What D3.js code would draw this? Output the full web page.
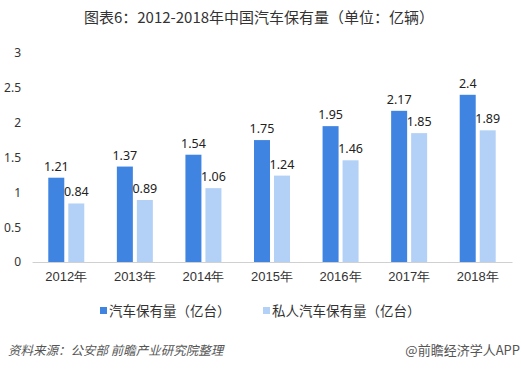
<!DOCTYPE html>
<html><head><meta charset="utf-8">
<script src="https://cdn.jsdelivr.net/npm/d3@7/dist/d3.min.js"></script>
<style>body{margin:0;background:#fff;}svg{display:block;font-family:"Noto Sans CJK SC","Microsoft YaHei",sans-serif;}</style>
</head><body>
<svg id="c" width="521" height="369"></svg>
<script>
const categories = ["2012年","2013年","2014年","2015年","2016年","2017年","2018年"];
const totalValues = [1.21,1.37,1.54,1.75,1.95,2.17,2.4];
const privateValues = [0.84,0.89,1.06,1.24,1.46,1.85,1.89];
const seriesNames = ["汽车保有量（亿台）","私人汽车保有量（亿台）"];
const yTicks = [0,0.5,1,1.5,2,2.5,3];
const colors = ["#3f84e0","#b3d1f7"];

const svg = d3.select("#c");
const x = d3.scaleBand().domain(categories).range([32,512]);
const y = d3.scaleLinear().domain([0,3]).range([262,53]);
const bw = 16, gap = 4;

svg.append("text").attr("x",259).attr("y",23).attr("text-anchor","middle")
  .attr("font-size",15).attr("fill","#333").text("图表6：2012-2018年中国汽车保有量（单位：亿辆）");

const ya = svg.append("g").attr("transform","translate(21,0)")
  .call(d3.axisLeft(y).tickValues(yTicks).tickSize(0).tickPadding(0).tickFormat(d=>String(d)));
ya.select(".domain").remove();
ya.selectAll("text").attr("font-size",12).attr("fill","#333").attr("font-family","'Noto Sans','DejaVu Sans',sans-serif");

const xa = svg.append("g").attr("transform","translate(0,262)")
  .call(d3.axisBottom(x).tickSize(0).tickPadding(10));
xa.select(".domain").attr("stroke","#d0d0d0");
xa.selectAll("text").attr("font-size",13).attr("fill","#333");

const series = [totalValues, privateValues];
series.forEach((vals,si)=>{
  const g = svg.append("g");
  const off = si===0 ? -(bw+gap/2) : gap/2;
  g.selectAll("rect").data(vals).join("rect")
    .attr("x",(d,i)=>x(categories[i])+x.bandwidth()/2+off)
    .attr("width",bw)
    .attr("y",d=>y(d)).attr("height",d=>y(0)-y(d))
    .attr("fill",colors[si]);
  g.selectAll("text").data(vals).join("text")
    .attr("x",(d,i)=>x(categories[i])+x.bandwidth()/2+off+bw/2)
    .attr("y",d=>y(d)-7)
    .attr("text-anchor","middle").attr("font-size",12.5).attr("fill","#222")
    .attr("font-family","'Noto Sans','DejaVu Sans',sans-serif")
    .text(d=>String(d));
});

const lx = [100,263];
seriesNames.forEach((n,i)=>{
  svg.append("rect").attr("x",lx[i]).attr("y",307).attr("width",7).attr("height",7).attr("fill",colors[i]);
  svg.append("text").attr("x",lx[i]+9).attr("y",316).attr("font-size",13.5).attr("fill","#333").text(n);
});

svg.append("text").attr("x",8).attr("y",355).attr("font-size",12.5).attr("fill","#555")
  .attr("font-style","italic").text("资料来源：公安部 前瞻产业研究院整理");
svg.append("text").attr("x",520).attr("y",355).attr("text-anchor","end").attr("font-size",13).attr("fill","#555")
  .text("@前瞻经济学人APP");
</script>
</body></html>
